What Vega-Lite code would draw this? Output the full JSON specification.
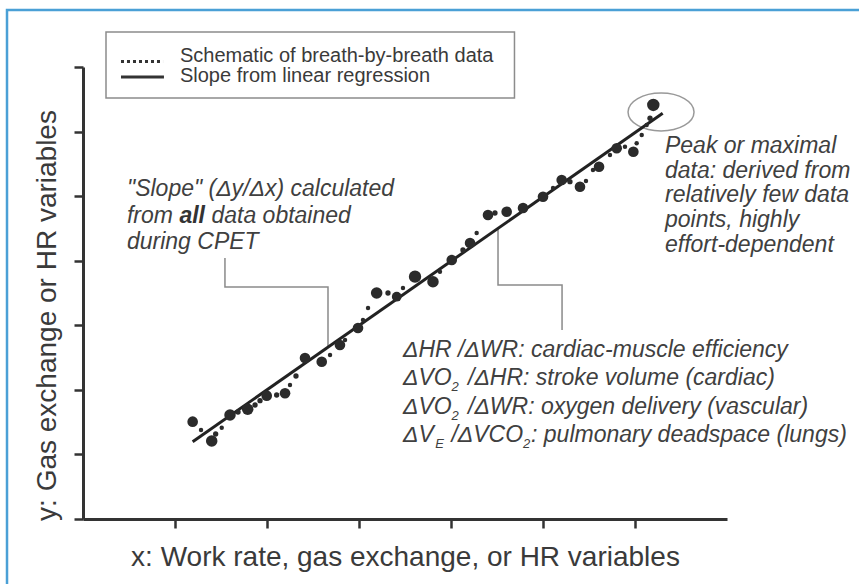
{
  "$schema": "https://vega.github.io/schema/vega-lite/v6.json",
  "width": 644,
  "height": 452,
  "autosize": {"type": "none"},
  "padding": {"left": 83, "top": 67, "right": 132, "bottom": 65},
  "background": "white",
  "config": {
    "view": {"stroke": null},
    "font": "Liberation Sans",
    "axis": {
      "labels": false,
      "grid": false,
      "domainColor": "#333333",
      "domainWidth": 3,
      "tickColor": "#333333",
      "tickWidth": 2.5,
      "tickSize": 9,
      "titleFont": "Liberation Sans",
      "titleFontSize": 28,
      "titleFontWeight": "normal",
      "titleColor": "#3a3a3a"
    }
  },
  "datasets": {
    "pts": [
      {"x": 1.192, "y": 1.507, "r": 6}, {"x": 1.283, "y": 1.378, "r": 2.5}, {"x": 1.399, "y": 1.208, "r": 6.5},
      {"x": 1.442, "y": 1.316, "r": 3}, {"x": 1.508, "y": 1.414, "r": 2.5}, {"x": 1.598, "y": 1.611, "r": 6.5},
      {"x": 1.685, "y": 1.657, "r": 3}, {"x": 1.790, "y": 1.699, "r": 6.5}, {"x": 1.870, "y": 1.765, "r": 3},
      {"x": 1.924, "y": 1.832, "r": 3}, {"x": 1.997, "y": 1.910, "r": 6}, {"x": 2.105, "y": 1.920, "r": 3},
      {"x": 2.196, "y": 1.947, "r": 6}, {"x": 2.250, "y": 2.075, "r": 2.5}, {"x": 2.315, "y": 2.215, "r": 3},
      {"x": 2.413, "y": 2.493, "r": 6}, {"x": 2.595, "y": 2.436, "r": 6}, {"x": 2.685, "y": 2.540, "r": 2.5},
      {"x": 2.793, "y": 2.695, "r": 6}, {"x": 2.848, "y": 2.772, "r": 2.5}, {"x": 2.989, "y": 2.958, "r": 6},
      {"x": 3.043, "y": 3.082, "r": 2.5}, {"x": 3.098, "y": 3.268, "r": 2.5}, {"x": 3.192, "y": 3.500, "r": 6.5},
      {"x": 3.315, "y": 3.500, "r": 3}, {"x": 3.410, "y": 3.443, "r": 5.5}, {"x": 3.478, "y": 3.578, "r": 2.5},
      {"x": 3.609, "y": 3.753, "r": 7}, {"x": 3.804, "y": 3.675, "r": 6.5}, {"x": 3.880, "y": 3.830, "r": 2.5},
      {"x": 4.008, "y": 4.011, "r": 6}, {"x": 4.130, "y": 4.166, "r": 3}, {"x": 4.207, "y": 4.274, "r": 6},
      {"x": 4.279, "y": 4.429, "r": 2.5}, {"x": 4.402, "y": 4.708, "r": 6}, {"x": 4.478, "y": 4.739, "r": 3},
      {"x": 4.605, "y": 4.759, "r": 6}, {"x": 4.783, "y": 4.817, "r": 6}, {"x": 5.000, "y": 4.991, "r": 6},
      {"x": 5.109, "y": 5.126, "r": 2.5}, {"x": 5.203, "y": 5.250, "r": 6}, {"x": 5.293, "y": 5.224, "r": 3},
      {"x": 5.402, "y": 5.146, "r": 6}, {"x": 5.467, "y": 5.235, "r": 2.5}, {"x": 5.543, "y": 5.405, "r": 2.5},
      {"x": 5.609, "y": 5.456, "r": 6}, {"x": 5.728, "y": 5.637, "r": 2.5}, {"x": 5.801, "y": 5.741, "r": 6},
      {"x": 5.891, "y": 5.766, "r": 2.5}, {"x": 5.982, "y": 5.688, "r": 6}, {"x": 6.018, "y": 5.818, "r": 2.5},
      {"x": 6.073, "y": 5.947, "r": 2.5}, {"x": 6.127, "y": 6.102, "r": 2.5}, {"x": 6.163, "y": 6.206, "r": 3},
      {"x": 6.199, "y": 6.412, "r": 7}
    ],
    "reg": [{"x": 1.192, "y": 1.197}, {"x": 6.301, "y": 6.283}],
    "leaders": [
      {"g": "a", "o": 1, "x": 1.543, "y": 4.042}, {"g": "a", "o": 2, "x": 1.543, "y": 3.593},
      {"g": "a", "o": 3, "x": 2.663, "y": 3.593}, {"g": "a", "o": 4, "x": 2.663, "y": 2.664},
      {"g": "b", "o": 1, "x": 4.511, "y": 4.491}, {"g": "b", "o": 2, "x": 4.511, "y": 3.624},
      {"g": "b", "o": 3, "x": 5.207, "y": 3.624}, {"g": "b", "o": 4, "x": 5.207, "y": 2.927}
    ],
    "peak": [{"x": 6.283, "y": 6.303}],
    "frame": [{"x": -0.826, "x2": 8.9, "y": 7.883, "y2": -1.6}],
    "legbox": [{"x": 0.25, "x2": 4.69, "y": 7.542, "y2": 6.52}],
    "legdot": [{"x": 0.413, "y": 7.085}, {"x": 0.870, "y": 7.085}],
    "legsolid": [{"x": 0.413, "y": 6.845}, {"x": 0.880, "y": 6.845}],
    "legtext": [
      {"x": 1.054, "y": 7.07, "t": "Schematic of breath-by-breath data"},
      {"x": 1.054, "y": 6.76, "t": "Slope from linear regression"}
    ],
    "notes": [
      {"x": 0.478, "y": 5.002, "t": "\"Slope\" (Δy/Δx) calculated"},
      {"x": 0.478, "y": 4.584, "t": "from"},
      {"x": 1.396, "y": 4.584, "t": "data obtained"},
      {"x": 0.478, "y": 4.181, "t": "during CPET"},
      {"x": 6.326, "y": 5.668, "t": "Peak or maximal"},
      {"x": 6.326, "y": 5.281, "t": "data: derived from"},
      {"x": 6.326, "y": 4.909, "t": "relatively few data"},
      {"x": 6.326, "y": 4.522, "t": "points, highly"},
      {"x": 6.326, "y": 4.135, "t": "effort-dependent"},
      {"x": 3.478, "y": 2.509, "t": "ΔHR /ΔWR: cardiac-muscle efficiency"},
      {"x": 3.478, "y": 2.068, "t": "ΔVO"},
      {"x": 4.185, "y": 2.068, "t": "/ΔHR: stroke volume (cardiac)"},
      {"x": 3.478, "y": 1.626, "t": "ΔVO"},
      {"x": 4.185, "y": 1.626, "t": "/ΔWR: oxygen delivery (vascular)"},
      {"x": 3.478, "y": 1.185, "t": "ΔV"},
      {"x": 4.005, "y": 1.185, "t": "/ΔVCO"},
      {"x": 4.87, "y": 1.185, "t": ": pulmonary deadspace (lungs)"}
    ],
    "bold": [{"x": 1.048, "y": 4.584, "t": "all"}],
    "subs": [
      {"x": 4.005, "y": 1.975, "t": "2"},
      {"x": 4.005, "y": 1.533, "t": "2"},
      {"x": 3.83, "y": 1.092, "t": "E"},
      {"x": 4.783, "y": 1.092, "t": "2"}
    ]
  },
  "encoding": {
    "x": {
      "field": "x", "type": "quantitative",
      "scale": {"domain": [0, 7], "nice": false, "zero": false},
      "axis": {"values": [1, 2, 3, 4, 5, 6], "title": "x: Work rate, gas exchange, or HR variables", "titleX": 322, "titleY": 46, "titleAlign": "center", "titleBaseline": "alphabetic", "titleAngle": 0}
    },
    "y": {
      "field": "y", "type": "quantitative",
      "scale": {"domain": [0, 7], "nice": false, "zero": false},
      "axis": {"values": [0, 1, 2, 3, 4, 5, 6, 7], "title": "y: Gas exchange or HR variables", "titleX": -28, "titleY": 248, "titleAlign": "center", "titleBaseline": "alphabetic", "titleAngle": 270}
    }
  },
  "layer": [
    {
      "data": {"name": "frame"},
      "mark": {"type": "rect", "fill": null, "stroke": "#4aa0d6", "strokeWidth": 2.5},
      "encoding": {"x2": {"field": "x2"}, "y2": {"field": "y2"}}
    },
    {
      "data": {"name": "legbox"},
      "mark": {"type": "rect", "fill": "white", "stroke": "#8c8c8c", "strokeWidth": 1.5},
      "encoding": {"x2": {"field": "x2"}, "y2": {"field": "y2"}}
    },
    {
      "data": {"name": "legdot"},
      "mark": {"type": "line", "color": "#333333", "strokeWidth": 3, "strokeDash": [3, 3]},
      "encoding": {}
    },
    {
      "data": {"name": "legsolid"},
      "mark": {"type": "line", "color": "#333333", "strokeWidth": 3},
      "encoding": {}
    },
    {
      "data": {"name": "legtext"},
      "mark": {"type": "text", "align": "left", "baseline": "alphabetic", "fontSize": 20, "color": "#3a3a3a", "font": "Liberation Sans"},
      "encoding": {"text": {"field": "t"}}
    },
    {
      "data": {"name": "leaders"},
      "mark": {"type": "line", "color": "#8a8a8a", "strokeWidth": 1.5},
      "encoding": {"detail": {"field": "g"}, "order": {"field": "o"}}
    },
    {
      "data": {"name": "peak"},
      "mark": {"type": "point", "shape": "M-1,0A1,0.576,0,1,0,1,0A1,0.576,0,1,0,-1,0Z", "size": 4356, "filled": false, "stroke": "#999999", "strokeWidth": 1.5, "opacity": 1},
      "encoding": {}
    },
    {
      "data": {"name": "reg"},
      "mark": {"type": "line", "color": "#222222", "strokeWidth": 3},
      "encoding": {}
    },
    {
      "data": {"name": "pts"},
      "mark": {"type": "circle", "color": "#2b2b2b", "opacity": 1},
      "encoding": {
        "size": {"field": "r", "type": "quantitative", "scale": {"type": "pow", "exponent": 2, "domain": [0, 7], "range": [0, 154]}, "legend": null}
      }
    },
    {
      "data": {"name": "notes"},
      "mark": {"type": "text", "align": "left", "baseline": "alphabetic", "fontSize": 23, "fontStyle": "italic", "color": "#404040", "font": "Liberation Sans"},
      "encoding": {"text": {"field": "t"}}
    },
    {
      "data": {"name": "bold"},
      "mark": {"type": "text", "align": "left", "baseline": "alphabetic", "fontSize": 23, "fontStyle": "italic", "fontWeight": "bold", "color": "#333333", "font": "Liberation Sans"},
      "encoding": {"text": {"field": "t"}}
    },
    {
      "data": {"name": "subs"},
      "mark": {"type": "text", "align": "left", "baseline": "alphabetic", "fontSize": 13, "fontStyle": "italic", "color": "#404040", "font": "Liberation Sans"},
      "encoding": {"text": {"field": "t"}}
    }
  ]
}
